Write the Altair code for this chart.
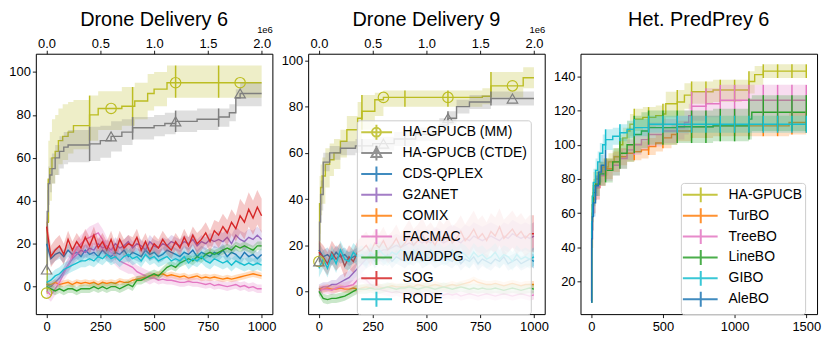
import altair as alt
import pandas as pd

FONT = "Liberation Sans"
TITLES = ["Drone Delivery 6", "Drone Delivery 9", "Het. PredPrey 6"]

MARL_METHODS = ["HA-GPUCB (MM)", "HA-GPUCB (CTDE)", "CDS-QPLEX", "G2ANET", "COMIX",
                "FACMAC", "MADDPG", "SOG", "RODE"]
MARL_COLORS = ["#bcbd22", "#7f7f7f", "#1f77b4", "#9467bd", "#ff7f0e",
               "#e377c2", "#2ca02c", "#d62728", "#17becf"]
BO_METHODS = ["HA-GPUCB", "TurBO", "TreeBO", "LineBO", "GIBO", "AleBO"]
BO_COLORS = ["#bcbd22", "#ff7f0e", "#e377c2", "#2ca02c", "#17becf", "#1f77b4"]

MARL_X_TICKS = [0, 250, 500, 750, 1000]
BO_X_TICKS = [0, 500, 1000, 1500]
D6_Y_TICKS = [0, 20, 40, 60, 80, 100]
D9_Y_TICKS = [0, 20, 40, 60, 80, 100]
PP_Y_TICKS = [20, 40, 60, 80, 100, 120, 140]
D6_Y_DOMAIN = [-12.8, 108.5]
D9_Y_DOMAIN = [-9.8, 102.9]
PP_Y_DOMAIN = [1.0, 153.2]
MARL_X_DOMAIN = [-50, 1050]
BO_X_DOMAIN = [-75, 1575]

MARL_ERR_X = [200, 400, 600, 800]
MARL_MARK_X = [0, 300, 600, 900]
BO_ERR_X = [100, 200, 300, 400, 500, 600, 700, 800, 900, 1000, 1100, 1200, 1300, 1400, 1500]

# ---------------- Drone Delivery 6 : HA-GPUCB step curves ----------------
D6_MM_X = [0, 3, 8, 15, 25, 40, 55, 75, 100, 125, 200, 240, 350, 410, 470, 500, 560, 1000]
D6_MM_Y = [-3, 30, 50, 55, 60, 63, 68, 70, 72, 75, 80, 83, 84, 86.5, 90, 92, 95, 95]
D6_MM_LO = [-3, 10, 30, 40, 48, 52, 57, 59, 62, 64, 68, 73, 75, 78, 82, 84, 88, 88]
D6_MM_HI = [-3, 50, 68, 72, 78, 80, 83, 85, 86, 87, 89, 91, 93, 95, 99, 100, 103, 103]

D6_CT_X = [0, 3, 8, 15, 25, 40, 60, 80, 100, 200, 250, 300, 350, 400, 500, 550, 600, 700, 800, 850, 880, 900, 1000]
D6_CT_Y = [8, 35, 48, 52, 55, 60, 63, 65, 66, 66.5, 68, 70, 72, 74, 75, 76, 77, 78, 79, 81, 88, 90, 90]
D6_CT_LO = [8, 25, 38, 44, 48, 52, 55, 57, 58, 58.5, 60, 63, 66, 68.5, 70, 71, 72, 73, 74.5, 77, 84, 84, 84]
D6_CT_HI = [8, 45, 56, 60, 62, 66, 70, 72, 73, 74.5, 75, 77, 78, 79, 80, 81, 82, 83, 83, 85, 92, 95, 95]

# ---------------- Drone Delivery 6 : baselines sampled every 20 steps ----------------
NOISY_X = list(range(0, 1001, 20))
D6_CDS = [20, 13, 15, 16, 14, 17, 15, 16, 14, 17,
          15, 16, 14, 17, 15, 14, 16, 15, 17, 14,
          16, 15, 14, 17, 15, 16, 14, 15, 17, 16,
          15, 14, 16, 15, 17, 14, 16, 15, 14, 16,
          15, 17, 14, 16, 15, 13, 16, 14, 15, 13, 15]
D6_G2A = [1, 0, 2, 4, 7, 10, 13, 15, 17, 16,
          18, 17, 20, 18, 19, 17, 20, 18, 19, 21,
          18, 20, 19, 17, 21, 19, 18, 20, 19, 21,
          20, 19, 21, 20, 22, 19, 21, 20, 22, 21,
          22, 21, 23, 20, 24, 22, 21, 23, 22, 24, 22]
D6_COMIX = [1, 1, 2, 1, 1.5, 2, 1, 2, 1.5, 2,
            1.5, 2, 1, 2, 1.5, 2, 1.5, 2.5, 2, 2,
            3, 3.5, 4, 4.5, 5, 5, 5.5, 6, 5, 5.5,
            5, 4.5, 5, 4, 4.5, 5, 4, 4.5, 4, 4.5,
            4, 3.5, 4, 3.5, 4, 4.5, 5, 5.5, 6, 5.5, 5]
D6_FACMAC = [-2, -4, -1, 2, 6, 10, 14, 18, 20, 22,
             23, 24, 25, 22, 18, 16, 14, 12, 11, 10,
             9, 7, 6, 5, 4, 4, 3, 3.5, 3, 3,
             2.5, 2, 2, 2.5, 2, 2, 1.5, 1, 1.5, 0.5,
             1, 0.5, 0, 0.5, 1, 0, 0.5, -0.5, 0, -1, -1]
D6_MADDPG = [0, -1, -2, -1, -2, -1, -1, -2, -1, -1,
             -1, 0, -1, 0, -1, 0, 0, -1, 0, 1,
             0, 3, 3, 4, 5, 6, 5, 7, 9, 10,
             9, 11, 12, 13, 12, 14, 13, 15, 16, 15,
             16, 17, 18, 17, 19, 18, 19, 18, 17, 19, 19]
D6_SOG = [28, 14, 17, 19, 15, 22, 17, 21, 18, 23,
          19, 24, 18, 21, 17, 22, 16, 22, 18, 20,
          19, 23, 17, 21, 16, 20, 18, 22, 19, 17,
          21, 18, 23, 19, 24, 20, 22, 25, 21, 26,
          24, 28, 25, 30, 27, 33, 30, 36, 32, 37, 33]
D6_RODE = [2, 3, 5, 6, 8, 9, 10, 11, 12, 12,
           13, 12, 14, 13, 15, 13, 14, 12, 14, 15,
           13, 14, 12, 15, 13, 14, 12, 13, 14, 12,
           13, 12, 14, 11, 13, 12, 14, 12, 11, 13,
           12, 11, 12, 10, 12, 11, 10, 11, 10, 11, 10]
# band half-widths per 100-step block
D6_CDS_HW = [3, 3, 3, 3, 3, 3, 3, 3, 3, 3, 3]
D6_G2A_HW = [2, 3, 3, 3, 3, 3, 3, 3, 4, 4, 4]
D6_COMIX_HW = [1.5, 1.5, 1.5, 1.5, 1.5, 1.5, 1.5, 1.5, 1.5, 1.5, 1.5]
D6_FACMAC_HW = [3, 4, 5, 4, 3, 2, 2, 2, 2, 2, 2]
D6_MADDPG_HW = [2, 2, 2, 2, 2, 2, 2, 2, 2, 2, 2]
D6_SOG_HW = [5, 4, 4, 4, 4, 4, 4, 5, 6, 8, 8]
D6_RODE_HW = [3, 3, 3, 3, 3, 3, 3, 3, 3, 3, 3]

# ---------------- Drone Delivery 9 ----------------
D9_MM_X = [0, 3, 8, 15, 30, 50, 70, 100, 130, 180, 200, 260, 300, 760, 800, 950, 1000]
D9_MM_Y = [13, 38, 45, 50, 55, 57, 60, 65, 70, 75, 78, 83, 84, 84.5, 89, 92.5, 92.5]
D9_MM_LO = [13, 25, 33, 38, 45, 50, 53, 58, 62, 66, 70, 76, 80, 81, 84, 88, 88]
D9_MM_HI = [13, 50, 55, 58, 62, 64, 66, 70, 76, 82, 85, 86, 87, 88, 95, 97, 97]

D9_CT_X = [0, 3, 8, 20, 50, 100, 170, 250, 350, 450, 560, 600, 640, 700, 800, 1000]
D9_CT_Y = [13, 30, 42, 56, 60, 62, 63, 64, 66, 68, 72, 75, 80, 82, 83.5, 83.5]
D9_CT_LO = [13, 22, 35, 52, 57, 59, 60, 61, 63, 65, 69, 72, 77, 79, 80.5, 80.5]
D9_CT_HI = [13, 38, 48, 60, 63, 65, 66, 67, 69, 71, 75, 78, 83, 85, 86.5, 86.5]

D9_CDS = [18, 15, 16, 14, 17, 15, 16, 14, 15, 16,
          15, 14, 16, 13, 15, 14, 16, 13, 15, 14,
          13, 15, 14, 16, 13, 14, 15, 13, 14, 15,
          14, 13, 15, 12, 14, 13, 15, 12, 14, 13,
          12, 14, 13, 15, 12, 13, 14, 12, 13, 14, 13]
D9_G2A = [1, 2, 2, 3, 3, 4, 5, 6, 8, 10,
          12, 14, 15, 16, 17, 18, 18, 19, 20, 19,
          20, 21, 20, 22, 21, 22, 21, 23, 22, 21,
          22, 23, 22, 21, 23, 22, 24, 23, 22, 23,
          24, 23, 22, 24, 23, 25, 24, 23, 24, 23, 24]
D9_COMIX = [1, 1, 1.5, 1, 1, 1.5, 1, 1, 1.5, 1,
            1.5, 2, 1.5, 2, 2, 1.5, 2, 2.5, 2, 2,
            2, 2.5, 2, 3, 2.5, 2, 2.5, 3, 2.5, 2,
            2.5, 3, 2.5, 3, 3.5, 4, 5, 4, 3.5, 3,
            3, 3.5, 3, 2.5, 3, 3.5, 3, 2.5, 3, 3, 3]
D9_FACMAC = [0, 1, 1, 0.5, 1.5, 2, 2, 2.5, 3, 5,
             6, 5, 3, 2, 1, 0.5, 0, -0.5, 0, -0.5,
             -1, -0.5, -1, -0.5, -1, -1.5, -1, -0.5, -1, -1.5,
             -1, -1.5, -1, -2, -1.5, -1, -1.5, -2, -1.5, -1,
             -1.5, -2, -1.5, -1, -1.5, -2, -1.5, -1, -1.5, -2, -1.5]
D9_MADDPG = [0, -3, -3.5, -3, -3, -2.5, -2, -1, 0, 1,
             1, 1, 1.5, 1, 1, 1.5, 2, 1.5, 1, 1.5,
             1.5, 2, 1.5, 1, 1.5, 2, 1.5, 1, 1.5, 2,
             1.5, 1, 1.5, 2, 1.5, 1, 1.5, 1, 1.5, 1,
             1, 1.5, 1, 0.5, 1, 1.5, 1, 0.5, 1, 1.5, 1]
D9_SOG = [17, 15, 12, 17, 14, 16, 11, 15, 13, 17,
          18, 20, 17, 21, 19, 22, 18, 20, 23, 19,
          21, 24, 20, 22, 25, 21, 23, 20, 24, 22,
          25, 21, 23, 26, 22, 24, 27, 23, 25, 22,
          26, 24, 28, 23, 25, 27, 24, 26, 23, 25, 25]
D9_RODE = [10, 14, 10, 16, 12, 18, 14, 13, 17, 15,
           16, 14, 17, 15, 18, 16, 15, 17, 16, 18,
           17, 15, 18, 16, 17, 15, 18, 16, 17, 15,
           16, 18, 15, 17, 16, 14, 17, 15, 16, 14,
           15, 17, 14, 16, 15, 13, 16, 14, 15, 14, 15]
D9_CDS_HW = [3, 3, 3, 3, 3, 3, 3, 3, 3, 3, 3]
D9_G2A_HW = [2, 3, 4, 5, 5, 5, 6, 6, 6, 6, 6]
D9_COMIX_HW = [1.5, 1.5, 1.5, 1.5, 1.5, 1.5, 1.5, 1.5, 1.5, 1.5, 1.5]
D9_FACMAC_HW = [2, 2, 2, 2, 2, 2, 2, 2, 2, 2, 2]
D9_MADDPG_HW = [2, 2, 2, 2, 2, 2, 2, 2, 2, 2, 2]
D9_SOG_HW = [5, 5, 6, 6, 7, 7, 7, 8, 8, 8, 8]
D9_RODE_HW = [4, 4, 4, 4, 4, 4, 4, 4, 4, 4, 4]

# ---------------- Het. PredPrey 6 (step curves) ----------------
PP_HA_X = [0, 3, 8, 15, 30, 50, 80, 120, 160, 200, 220, 250, 270, 300, 360, 450, 500, 520, 600, 650, 700, 850, 1050, 1100, 1140, 1200, 1500]
PP_HA_Y = [8, 55, 70, 76, 80, 84, 87, 90, 93, 100, 104, 108, 112, 115, 116, 117, 118, 124, 125, 129, 131, 132, 132, 137, 141, 143, 143]
PP_HA_LO = [8, 45, 60, 68, 74, 78, 82, 85, 88, 92, 97, 101, 105, 108, 110, 111, 112, 116, 117, 121, 124, 125, 126, 130, 135, 139, 139]
PP_HA_HI = [8, 65, 78, 84, 86, 90, 92, 95, 98, 106, 110, 114, 118, 121, 122, 123, 124, 131, 132, 136, 137, 138, 138, 143, 146, 147, 147]

PP_TUR_X = [0, 3, 8, 15, 30, 60, 100, 150, 200, 250, 300, 350, 400, 450, 500, 560, 600, 700, 850, 1360, 1380, 1500]
PP_TUR_Y = [8, 40, 60, 68, 75, 82, 86, 90, 93, 95, 96, 97, 99, 101, 104, 106, 108, 110.5, 111, 111, 113, 114]
PP_TUR_LO = [8, 30, 50, 60, 68, 76, 80, 84, 88, 90, 91, 92, 94, 96, 98, 100, 102, 104, 105, 105, 106, 107]
PP_TUR_HI = [8, 50, 70, 76, 82, 88, 92, 96, 98, 100, 101, 102, 104, 106, 110, 112, 114, 117, 117, 117, 119, 120]

PP_TREE_X = [0, 3, 8, 15, 30, 60, 100, 150, 200, 250, 300, 350, 400, 500, 600, 650, 680, 700, 800, 900, 1500]
PP_TREE_Y = [8, 45, 60, 68, 75, 82, 85, 88, 92, 97, 100, 103, 106, 108, 110, 113, 117, 122.5, 124, 126, 126]
PP_TREE_LO = [8, 35, 50, 60, 68, 76, 79, 82, 86, 91, 94, 97, 99, 101, 103, 106, 110, 114, 116, 117, 117]
PP_TREE_HI = [8, 55, 70, 76, 82, 88, 91, 94, 98, 103, 106, 109, 113, 115, 117, 120, 124, 131, 133, 135, 135]

PP_LINE_X = [0, 3, 8, 15, 30, 60, 100, 150, 200, 250, 300, 350, 400, 600, 850, 1100, 1120, 1500]
PP_LINE_Y = [8, 50, 65, 72, 77, 83, 85, 90, 95, 100, 106, 108, 110, 110.5, 111, 115, 119, 119]
PP_LINE_LO = [8, 40, 55, 64, 70, 76, 78, 82, 86, 90, 95, 98, 100, 101, 102, 103, 108, 108]
PP_LINE_HI = [8, 60, 75, 80, 84, 90, 92, 98, 104, 110, 117, 119, 120, 120, 121, 127, 129, 129]

PP_GIBO_X = [0, 3, 8, 15, 30, 45, 60, 80, 100, 150, 200, 250, 300, 400, 1500]
PP_GIBO_Y = [8, 55, 70, 78, 85, 90, 95, 100, 103, 105, 107, 109, 110, 112, 112.5]
PP_GIBO_LO = [8, 45, 62, 70, 78, 84, 89, 94, 97, 100, 102, 104, 105, 107, 107]
PP_GIBO_HI = [8, 65, 78, 86, 92, 96, 101, 106, 109, 110, 112, 114, 115, 117, 117]

PP_ALE_X = [0, 3, 8, 15, 30, 50, 70, 100]
PP_ALE_Y = [8, 45, 58, 66, 76, 84, 88, 91]
PP_ALE_LO = [8, 38, 50, 58, 70, 78, 82, 85]
PP_ALE_HI = [8, 52, 66, 74, 82, 90, 94, 97]

# legend symbol paths (unit = 8 px): horizontal line + vertical error bar (+ marker)
CROSS_M = "M-0.95,0H2.925M0.9625,-0.9375V0.9375"
CIRCLE_M = CROSS_M + "M0.4,0A0.5625,0.5625 0 1,0 1.525,0A0.5625,0.5625 0 1,0 0.4,0"
TRI_M = CROSS_M + "M0.9625,-0.7L1.59,0.5L0.335,0.5Z"
CROSS_B = "M-1.25,0H3.125M1.0,-0.9375V0.9375"
MARL_SHAPES = [CIRCLE_M, TRI_M] + [CROSS_M] * 7
BO_SHAPES = [CROSS_B] * 6

D6_STEP = {"HA-GPUCB (MM)": (D6_MM_X, D6_MM_Y, D6_MM_LO, D6_MM_HI),
           "HA-GPUCB (CTDE)": (D6_CT_X, D6_CT_Y, D6_CT_LO, D6_CT_HI)}
D6_NOISY = {"CDS-QPLEX": (D6_CDS, D6_CDS_HW), "G2ANET": (D6_G2A, D6_G2A_HW),
            "COMIX": (D6_COMIX, D6_COMIX_HW), "FACMAC": (D6_FACMAC, D6_FACMAC_HW),
            "MADDPG": (D6_MADDPG, D6_MADDPG_HW), "SOG": (D6_SOG, D6_SOG_HW),
            "RODE": (D6_RODE, D6_RODE_HW)}
D9_STEP = {"HA-GPUCB (MM)": (D9_MM_X, D9_MM_Y, D9_MM_LO, D9_MM_HI),
           "HA-GPUCB (CTDE)": (D9_CT_X, D9_CT_Y, D9_CT_LO, D9_CT_HI)}
D9_NOISY = {"CDS-QPLEX": (D9_CDS, D9_CDS_HW), "G2ANET": (D9_G2A, D9_G2A_HW),
            "COMIX": (D9_COMIX, D9_COMIX_HW), "FACMAC": (D9_FACMAC, D9_FACMAC_HW),
            "MADDPG": (D9_MADDPG, D9_MADDPG_HW), "SOG": (D9_SOG, D9_SOG_HW),
            "RODE": (D9_RODE, D9_RODE_HW)}
PP_STEP = {"HA-GPUCB": (PP_HA_X, PP_HA_Y, PP_HA_LO, PP_HA_HI),
           "TurBO": (PP_TUR_X, PP_TUR_Y, PP_TUR_LO, PP_TUR_HI),
           "TreeBO": (PP_TREE_X, PP_TREE_Y, PP_TREE_LO, PP_TREE_HI),
           "LineBO": (PP_LINE_X, PP_LINE_Y, PP_LINE_LO, PP_LINE_HI),
           "GIBO": (PP_GIBO_X, PP_GIBO_Y, PP_GIBO_LO, PP_GIBO_HI),
           "AleBO": (PP_ALE_X, PP_ALE_Y, PP_ALE_LO, PP_ALE_HI)}

W, H = 238, 262


def step_value(xs, vs, x):
    out = vs[0]
    for xi, vi in zip(xs, vs):
        if xi <= x:
            out = vi
    return out


def make_panel(title, methods, colors, shapes, step, noisy, xdom, xticks, ydom, yticks,
               top_visible, err_x, markers, legend_opts):
    xs = alt.Scale(domain=xdom, nice=False, zero=False)
    ys = alt.Scale(domain=ydom, nice=False, zero=False)
    # colour scale used by the legend (color/shape channels)
    cs = alt.Scale(domain=methods, range=colors)
    # same mapping, listed in reverse so it stays a separate (legend-less) scale
    cs_marks = alt.Scale(domain=methods[::-1], range=colors[::-1])
    x_bot = alt.X("x:Q", scale=xs, title=None,
                  axis=alt.Axis(orient="bottom", values=xticks, format="d"))
    common_top = dict(orient="top", title="1e6", titleX=W, titleY=-21, titleAlign="right",
                      titleBaseline="alphabetic", titleAngle=0, titleFontSize=9.5,
                      titleFontWeight="normal", titleColor="black", labelPadding=0)
    if top_visible:
        top_axis = alt.Axis(values=MARL_X_TICKS,
                            labelExpr="format(datum.value / 500, '.1f')", **common_top)
    else:
        top_axis = alt.Axis(values=xticks, labelOpacity=0, ticks=False, titleOpacity=0,
                            **common_top)
    x_top = alt.X("x:Q", scale=xs, title=None, axis=top_axis)
    x_none = alt.X("x:Q", scale=xs, axis=None)
    yax = alt.Axis(values=yticks, format="d", labelPadding=2)
    y_enc = alt.Y("y:Q", scale=ys, title=None, axis=yax)
    lo_enc = alt.Y("lo:Q", scale=ys, title=None, axis=yax)
    stroke = alt.Stroke("method:N", scale=cs_marks, legend=None)
    fill = alt.Fill("method:N", scale=cs_marks, legend=None)

    layers = []
    first = True
    for m in methods:
        if m in step:
            xs_, ys_, lo_, hi_ = step[m]
            df = pd.DataFrame({"method": m, "x": xs_, "y": ys_, "lo": lo_, "hi": hi_})
            interp = "step-after"
        elif m in noisy:
            vals, hw = noisy[m]
            xv = NOISY_X[:len(vals)]
            lo_ = [v - hw[x // 100] for v, x in zip(vals, xv)]
            hi_ = [v + hw[x // 100] for v, x in zip(vals, xv)]
            df = pd.DataFrame({"method": m, "x": xv, "y": vals, "lo": lo_, "hi": hi_})
            interp = "linear"
        else:
            continue
        base = alt.Chart(df)
        band = base.mark_area(interpolate=interp, opacity=0.25).encode(
            x=x_top if first else x_none, y=lo_enc, y2="hi:Q", fill=fill)
        line = base.mark_line(interpolate=interp, strokeWidth=1.4).encode(
            x=x_bot if first else x_none, y=y_enc, stroke=stroke)
        first = False
        layers += [band, line]

    # error bars
    rows = []
    for m in methods:
        if m in step:
            xs_, ys_, lo_, hi_ = step[m]
            for ex in err_x:
                if ex <= xs_[-1]:
                    rows.append({"method": m, "x": ex, "lo": step_value(xs_, lo_, ex),
                                 "hi": step_value(xs_, hi_, ex)})
    if rows:
        layers.append(alt.Chart(pd.DataFrame(rows)).mark_rule(strokeWidth=1.5).encode(
            x=x_none, y=lo_enc, y2="hi:Q", stroke=stroke))

    # markers
    for m, shp in markers:
        xs_, ys_, lo_, hi_ = step[m]
        mdf = pd.DataFrame({"method": m, "x": MARL_MARK_X,
                            "y": [step_value(xs_, ys_, mx) for mx in MARL_MARK_X]})
        layers.append(alt.Chart(mdf).mark_point(shape=shp, filled=False, size=110,
                                                strokeWidth=1.2, opacity=1).encode(
            x=x_none, y=y_enc, stroke=stroke))

    # legend carrier (no visible marks: x/y are empty)
    if legend_opts is not None:
        lx, ly, loff, rpad = legend_opts
        leg = alt.Legend(title=None, orient="none", legendX=lx, legendY=ly,
                         fillColor="rgba(255,255,255,0.8)", strokeColor="#cccccc",
                         cornerRadius=3, padding=3, labelFont=FONT, labelFontSize=14,
                         labelColor="black", symbolSize=256, symbolStrokeWidth=2,
                         symbolOpacity=0.85, labelOffset=loff, rowPadding=rpad,
                         symbolFillColor="transparent", zindex=1)
        ldf = pd.DataFrame({"method": methods, "x": [None] * len(methods),
                            "y": [None] * len(methods)})
        layers.append(alt.Chart(ldf).mark_point(filled=False, opacity=1).encode(
            x=x_none, y=y_enc,
            color=alt.Color("method:N", scale=cs, legend=leg),
            shape=alt.Shape("method:N", scale=alt.Scale(domain=methods, range=shapes),
                            legend=leg)))

    return alt.layer(*layers).resolve_axis(x="independent").properties(
        width=W, height=H,
        title=alt.Title(title, fontSize=20, font=FONT, fontWeight="normal",
                        color="black", anchor="middle", offset=-5))


p1 = make_panel(TITLES[0], MARL_METHODS, MARL_COLORS, MARL_SHAPES, D6_STEP, D6_NOISY,
                MARL_X_DOMAIN, MARL_X_TICKS, D6_Y_DOMAIN, D6_Y_TICKS, True, MARL_ERR_X,
                [("HA-GPUCB (MM)", "circle"), ("HA-GPUCB (CTDE)", "triangle-up")], None)
p2 = make_panel(TITLES[1], MARL_METHODS, MARL_COLORS, MARL_SHAPES, D9_STEP, D9_NOISY,
                MARL_X_DOMAIN, MARL_X_TICKS, D9_Y_DOMAIN, D9_Y_TICKS, True, MARL_ERR_X,
                [("HA-GPUCB (MM)", "circle"), ("HA-GPUCB (CTDE)", "triangle-up")],
                (49, 67, 25, -4.5))
p3 = make_panel(TITLES[2], BO_METHODS, BO_COLORS, BO_SHAPES, PP_STEP, {},
                BO_X_DOMAIN, BO_X_TICKS, PP_Y_DOMAIN, PP_Y_TICKS, False, BO_ERR_X,
                [], (101, 130, 27, -4.3))

chart = alt.hconcat(p1, p2, p3, spacing=36, bounds="flush").resolve_scale(
    color="independent", shape="independent", stroke="independent", fill="independent",
    x="independent", y="independent"
).resolve_legend(color="independent", shape="independent").properties(
    padding={"top": 0, "left": 0, "right": 0, "bottom": 0}
).configure_view(stroke="black", strokeWidth=1).configure_axis(
    labelFont=FONT, labelFontSize=13, labelColor="black", tickColor="black",
    tickSize=3.5, tickWidth=0.9, domain=False, grid=False, labelPadding=3,
    titleFont=FONT)

chart.save("out.html", embed_options={"renderer": "svg", "actions": False})
